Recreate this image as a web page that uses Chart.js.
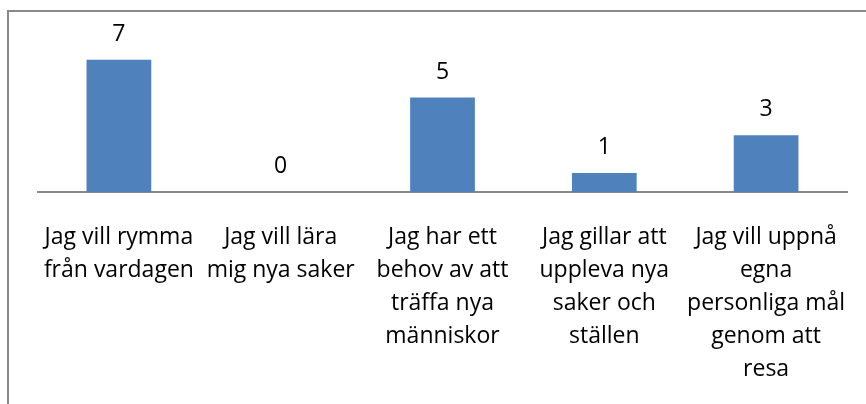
<!DOCTYPE html>
<html>
<head>
<meta charset="utf-8">
<script src="https://cdn.jsdelivr.net/npm/chart.js@4"></script>
<style>
  body { margin: 0; background: #fff; }
  #frame { position: absolute; left: 7px; top: 10px; width: 900px; height: 500px;
           border-left: 2px solid #898989; border-top: 2px solid #898989; }
  #wrap { position: absolute; left: 0; top: 0; width: 866px; height: 404px; }
</style>
</head>
<body>
<div id="frame"></div>
<div id="wrap"><canvas id="reasonChart" width="866" height="404"></canvas></div>
<script>
// Categories (wrapped the same way as the original)
const categories = [
  ['Jag vill rymma', 'från vardagen'],
  ['Jag vill lära', 'mig nya saker'],
  ['Jag har ett', 'behov av att', 'träffa nya', 'människor'],
  ['Jag gillar att', 'uppleva nya', 'saker och', 'ställen'],
  ['Jag vill uppnå', 'egna', 'personliga mål', 'genom att', 'resa']
];
const answers = [7, 0, 5, 1, 3];

const labelFont = { family: '"Open Sans", Lato, sans-serif', size: 23 };

// value labels above each bar
const valueLabels = {
  id: 'valueLabels',
  afterDatasetsDraw(chart) {
    const ctx = chart.ctx;
    const meta = chart.getDatasetMeta(0);
    ctx.save();
    ctx.font = `${labelFont.size}px ${labelFont.family}`;
    ctx.fillStyle = '#000';
    ctx.textAlign = 'center';
    ctx.textBaseline = 'alphabetic';
    meta.data.forEach((bar, i) => {
      ctx.fillText(String(answers[i]), bar.x, bar.y - 19);
    });
    ctx.restore();
  }
};

new Chart(document.getElementById('reasonChart'), {
  type: 'bar',
  data: {
    labels: categories,
    datasets: [{
      data: answers,
      backgroundColor: '#4F81BD',
      barPercentage: 0.4,
      categoryPercentage: 1.0
    }]
  },
  options: {
    responsive: false,
    animation: false,
    layout: { padding: { left: 38, right: 19, top: 3, bottom: 23 } },
    plugins: { legend: { display: false }, tooltip: { enabled: false } },
    scales: {
      y: { display: false, min: 0, max: 10 },
      x: {
        grid: { display: false, drawTicks: false },
        border: { display: true, color: '#898989', width: 2 },
        // labels fit inside the frame, no extra side padding needed
        afterFit(scale) {
          scale.paddingLeft = 0;
          scale.paddingRight = 0;
        },
        ticks: {
          color: '#000',
          padding: 29,
          maxRotation: 0,
          autoSkip: false,
          font: { family: labelFont.family, size: labelFont.size, lineHeight: '33px' }
        }
      }
    }
  },
  plugins: [valueLabels]
});
</script>
</body>
</html>
